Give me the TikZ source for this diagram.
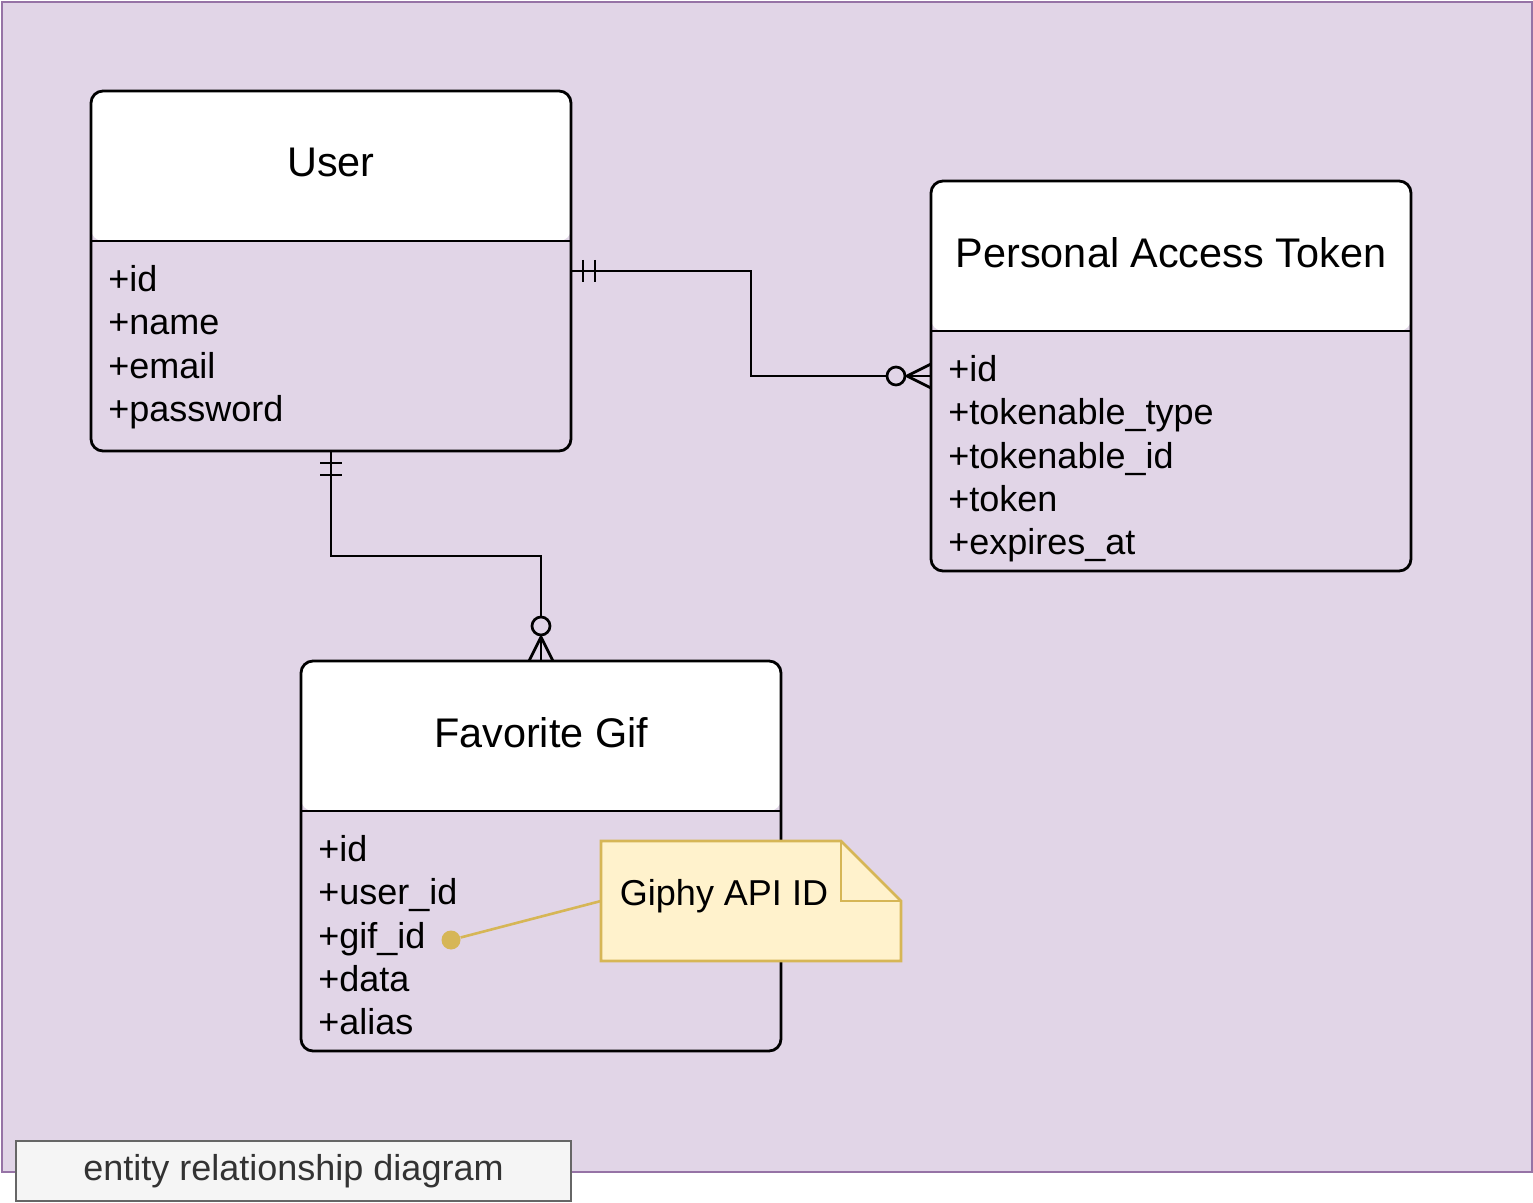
\documentclass[tikz,border=0pt]{standalone}
\usepackage{fontspec}
\setmainfont{Liberation Sans}
\usetikzlibrary{calc,positioning}
\definecolor{framedraw}{HTML}{9673A6}
\definecolor{framebg}{HTML}{E1D5E7}
\definecolor{notefill}{HTML}{FFF2CC}
\definecolor{noteline}{HTML}{D6B656}
\definecolor{tagfill}{HTML}{F5F5F5}
\definecolor{tagline}{HTML}{666666}
\definecolor{tagtext}{HTML}{333333}

\begin{document}
\begin{tikzpicture}[
  x=0.5pt,y=-0.5pt,
  entity/.style={draw=black,line width=1.4pt,rounded corners=6pt,minimum width=240pt,inner sep=0pt,outer sep=0pt,
    path picture={
      \fill[white] (path picture bounding box.north west) rectangle ([yshift=-75pt]path picture bounding box.north east);
      \draw[line width=1.4pt] ([yshift=-75pt]path picture bounding box.north west) -- ([yshift=-75pt]path picture bounding box.north east);}},
  enttitle/.style={inner sep=0pt,font=\fontsize{20.7}{24}\selectfont},
  attrs/.style={inner sep=0pt,anchor=north west,align=left,font=\fontsize{18}{21.65}\selectfont},
  conn/.style={line width=1.35pt,draw=black},
  notebox/.style={draw=noteline,fill=notefill,line width=1.3pt},
  tag/.style={draw=tagline,fill=tagfill,line width=1.3pt,text=tagtext,minimum width=277.5pt,minimum height=30pt,inner sep=0pt,font=\fontsize{18}{21.65}\selectfont}
]
\useasboundingbox (0,0) rectangle (1533,1203);

% Container
\node[draw=framedraw,fill=framebg,line width=1.2pt,minimum width=765pt,minimum height=585pt,inner sep=0pt,anchor=north west] (canvas) at (1,1) {};
\node[tag] (caption) at (293.5,1171) {entity relationship diagram};

% Entities
\node[entity,minimum height=180pt] (user) at (331,271) {};
\node[enttitle] (usertitle) at (331,162) {User};
\node[attrs] (userattrs) at (108,265) {+id\\+name\\+email\\+password};

\node[entity,minimum height=195pt] (pat) at (1171,376) {};
\node[enttitle] (pattitle) at (1171,253) {Personal Access Token};
\node[attrs] (patattrs) at (948,355) {+id\\+tokenable\_type\\+tokenable\_id\\+token\\+expires\_at};

\node[entity,minimum height=195pt] (fav) at (541,856) {};
\node[enttitle] (favtitle) at (541,733) {Favorite Gif};
\node[attrs] (favattrs) at (318,835) {+id\\+user\_id\\+gif\_id\\+data\\+alias};

% User -- Personal Access Token
\draw[conn] (user.east) -- ++(180,0) |- (pat.west);
\draw[conn] ($(user.east)+(12,-11)$) -- ++(0,22) ($(user.east)+(24,-11)$) -- ++(0,22);
\draw[conn] ($(pat.west)+(-24,0)$) -- ($(pat.west)+(0,-12)$) ($(pat.west)+(-24,0)$) -- ($(pat.west)+(0,12)$);
\draw[conn,fill=framebg] ($(pat.west)+(-35,0)$) circle (4.5pt);

% User -- Favorite Gif
\draw[conn] (user.south) -- ++(0,105) -| (fav.north);
\draw[conn] ($(user.south)+(-11,12)$) -- ++(22,0) ($(user.south)+(-11,24)$) -- ++(22,0);
\draw[conn] ($(fav.north)+(0,-24)$) -- ($(fav.north)+(-12,0)$) ($(fav.north)+(0,-24)$) -- ($(fav.north)+(12,0)$);
\draw[conn,fill=framebg] ($(fav.north)+(0,-35)$) circle (4.5pt);

% Note
\node[minimum width=150pt,minimum height=60pt,inner sep=0pt,outer sep=0pt] (note) at (751,901) {};
\draw[notebox] (note.south west) -- (note.north west) -- ([xshift=-30pt]note.north east) -- ([yshift=-30pt]note.north east) -- (note.south east) -- cycle;
\draw[notebox,fill=none] ([xshift=-30pt]note.north east) |- ([yshift=-30pt]note.north east);
\node[inner sep=0pt,font=\fontsize{18}{21.65}\selectfont] (notelabel) at ($(note.center)+(-27,-5)$) {Giphy API ID};
\node[circle,fill=noteline,inner sep=0pt,minimum size=9.5pt] (gifdot) at (451,940) {};
\draw[draw=noteline,line width=1.3pt] (gifdot) -- (note.west);
\end{tikzpicture}
\end{document}
